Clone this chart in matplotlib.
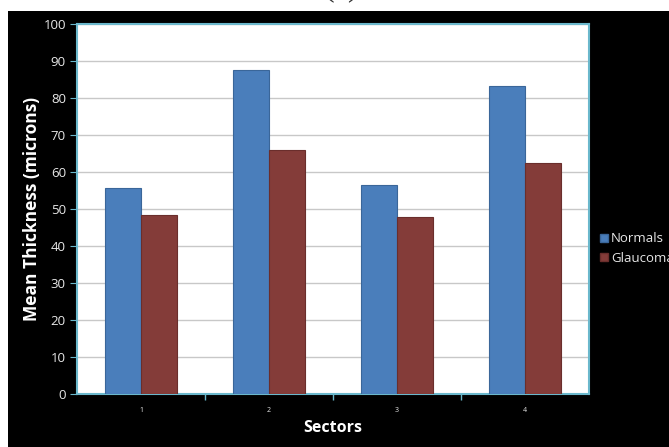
import matplotlib.pyplot as plt
from matplotlib.patches import Rectangle
from matplotlib.lines import Line2D

sectors = ['1', '2', '3', '4']
normals = [55.7, 87.7, 56.5, 83.2]
glaucoma = [48.5, 66.0, 47.8, 62.3]
yticks = [0, 10, 20, 30, 40, 50, 60, 70, 80, 90, 100]

BLUE = '#4A7EBB'
RED = '#843C39'
FRAME = '#6BB8CC'
TXT = '#E8E8E8'

plt.rcParams['font.family'] = ['Open Sans', 'DejaVu Sans']

fig = plt.figure(figsize=(6.69, 4.47), dpi=100, facecolor='white')

# panel letter sits partly hidden under the black backdrop
fig.text(0.511, 1 + 5 / 447, '(c)', family='Liberation Serif', fontsize=23,
         ha='center', va='baseline', color='#333333', zorder=0)
fig.patches.append(Rectangle((8 / 669, 0), 1, 1 - 11 / 447, transform=fig.transFigure,
                             facecolor='black', edgecolor='none', zorder=1))

ax = fig.add_axes([77 / 669, 53 / 447, 512 / 669, 370 / 447], zorder=2)
ax.set_facecolor('white')

x = range(len(sectors))
w = 0.28
ax.bar([i - w / 2 for i in x], normals, width=w, color=BLUE,
       edgecolor='#3A6699', linewidth=0.8, zorder=3)
ax.bar([i + w / 2 for i in x], glaucoma, width=w, color=RED,
       edgecolor='#6A2E2C', linewidth=0.8, zorder=3)

ax.set_xlim(-0.5, 3.5)
ax.set_ylim(0, 100)
ax.set_yticks(yticks)
ax.yaxis.grid(True, color='#C8C8C8', linewidth=1)
ax.set_axisbelow(True)

ax.set_xticks(list(x))
ax.set_xticklabels(sectors, fontsize=5, color=TXT)
ax.set_xticks([0.5, 1.5, 2.5], minor=True)
ax.tick_params(axis='x', which='major', length=0, pad=9)
ax.tick_params(axis='x', which='minor', length=4, color=FRAME, width=1)
ax.tick_params(axis='y', length=5, color=FRAME, labelsize=9.5, labelcolor=TXT, pad=3)

for s in ax.spines.values():
    s.set_color(FRAME)
    s.set_linewidth(1.5)

ax.set_ylabel('Mean Thickness (microns)', fontsize=12.5, fontweight='bold',
              color='white', labelpad=2)
ax.set_xlabel('Sectors', fontsize=11.5, fontweight='bold', color='white', labelpad=5)

handles = [Line2D([], [], marker='s', linestyle='none', markersize=6,
                  markerfacecolor=BLUE, markeredgecolor='#3A6699'),
           Line2D([], [], marker='s', linestyle='none', markersize=6,
                  markerfacecolor=RED, markeredgecolor='#6A2E2C')]
fig.legend(handles, ['Normals', 'Glaucoma'], loc='upper left',
           bbox_to_anchor=(592 / 669, 1 - 227 / 447), frameon=False,
           fontsize=9.5, labelcolor=TXT, handletextpad=0.05, handlelength=1.0,
           labelspacing=0.5, borderaxespad=0)

fig.savefig('out.png', dpi=100, facecolor='white')
